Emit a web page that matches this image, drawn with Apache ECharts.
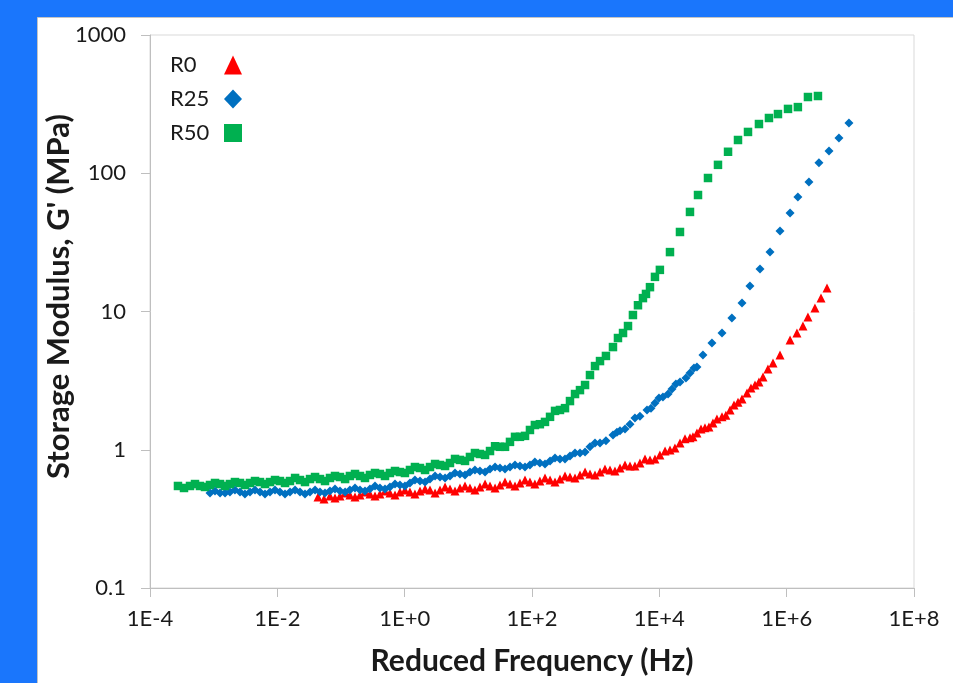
<!DOCTYPE html>
<html>
<head>
<meta charset="utf-8">
<script src="https://cdn.jsdelivr.net/npm/echarts@6/dist/echarts.min.js"></script>
<style>
  html, body { margin: 0; padding: 0; background: #1a76fc; }
  #chart { width: 953px; height: 683px; }
</style>
</head>
<body>
<div id="chart"></div>
<script>
// Storage modulus master curves (reduced frequency in Hz, G' in MPa)
const seriesNames = ['R0', 'R25', 'R50'];

// R0 — main readings
const r0Freq = [4.35e-2, 6.71e-2, 9.64e-2, 0.138, 0.199, 0.285, 0.409, 0.587, 0.843, 1.21,
  1.74, 2.50, 3.59, 5.15, 7.39, 10.6, 15.2, 21.9, 31.4, 45.1,
  64.7, 92.9, 133, 192, 275, 395, 567, 814, 1170, 1680,
  2410, 3460, 4960, 7130, 1.02e4, 1.47e4, 2.11e4, 3.03e4, 3.90e4, 5.21e4,
  6.95e4, 9.64e4, 1.29e5, 1.72e5, 2.38e5, 3.18e5, 4.25e5, 6.10e5, 7.85e5, 1.13e6,
  1.45e6, 1.80e6, 2.16e6, 2.78e6, 3.46e6, 4.30e6];
const r0Mod = [0.455, 0.463, 0.463, 0.471, 0.471, 0.479, 0.479, 0.486, 0.494, 0.494,
  0.503, 0.511, 0.511, 0.520, 0.529, 0.529, 0.538, 0.547, 0.556, 0.565,
  0.575, 0.584, 0.594, 0.604, 0.614, 0.635, 0.657, 0.668, 0.690, 0.714,
  0.738, 0.763, 0.802, 0.844, 0.917, 0.995, 1.12, 1.22, 1.32, 1.44,
  1.56, 1.73, 1.94, 2.21, 2.57, 2.94, 3.36, 4.24, 4.84, 6.22,
  6.99, 7.85, 9.12, 10.6, 12.5, 14.8];
// R0 — overlapping points from neighbouring temperatures
const r0FreqOverlap = [5.41e-2, 8.05e-2, 0.116, 0.166, 0.238, 0.342, 0.491, 0.705, 1.01, 1.45,
  2.09, 3.00, 4.31, 6.18, 8.87, 12.7, 18.3, 26.3, 37.7, 54.1,
  77.7, 111, 160, 230, 330, 474, 681, 977, 1400, 2010,
  2890, 4140, 5950, 8540, 1.23e4, 1.76e4, 2.53e4, 3.37e4, 4.51e4, 6.02e4,
  8.04e4, 1.11e5, 1.49e5, 1.99e5, 2.75e5, 3.67e5, 5.08e5];
const r0ModOverlap = [0.440, 0.448, 0.486, 0.455, 0.494, 0.463, 0.503, 0.471, 0.511, 0.479,
  0.520, 0.486, 0.538, 0.503, 0.547, 0.511, 0.565, 0.529, 0.584, 0.547,
  0.604, 0.565, 0.625, 0.584, 0.646, 0.625, 0.690, 0.657, 0.726, 0.702,
  0.776, 0.763, 0.858, 0.858, 0.979, 1.03, 1.20, 1.24, 1.41, 1.46,
  1.67, 1.78, 2.11, 2.33, 2.80, 3.09, 3.84];

// R25 — main readings
const r25Freq = [8.75e-4, 1.26e-3, 1.80e-3, 2.59e-3, 3.72e-3, 5.34e-3, 7.67e-3, 1.10e-2, 1.58e-2, 2.27e-2,
  3.26e-2, 4.68e-2, 6.71e-2, 9.64e-2, 0.138, 0.199, 0.285, 0.409, 0.587, 0.843,
  1.21, 1.74, 2.50, 3.59, 5.15, 7.39, 10.6, 15.2, 21.9, 31.4,
  45.1, 64.7, 92.9, 133, 192, 275, 395, 567, 814, 1170,
  1870, 2410, 3460, 4960, 6400, 8540, 1.14e4, 1.58e4, 2.11e4, 3.03e4,
  3.90e4, 4.84e4, 6.71e4, 9.64e4, 1.38e5, 1.99e5, 2.65e5, 3.81e5, 5.47e5, 7.85e5,
  1.13e6, 1.50e6, 2.24e6, 3.21e6, 4.62e6, 6.62e6, 9.51e6];
const r25Mod = [0.486, 0.486, 0.494, 0.494, 0.494, 0.494, 0.494, 0.494, 0.494, 0.494,
  0.494, 0.494, 0.503, 0.503, 0.511, 0.511, 0.520, 0.529, 0.538, 0.556,
  0.575, 0.594, 0.614, 0.635, 0.646, 0.668, 0.690, 0.702, 0.726, 0.738,
  0.750, 0.763, 0.776, 0.802, 0.830, 0.858, 0.902, 0.947, 1.05, 1.12,
  1.28, 1.37, 1.53, 1.75, 1.94, 2.18, 2.41, 2.75, 3.09, 3.59,
  3.97, 4.84, 5.91, 6.99, 8.97, 11.5, 15.3, 20.3, 26.9, 38.2,
  51.5, 67.3, 86.5, 119, 145, 180, 231];
// R25 — overlapping points from neighbouring temperatures
const r25FreqOverlap = [1.05e-3, 1.51e-3, 2.16e-3, 3.10e-3, 4.46e-3, 6.40e-3, 9.20e-3, 1.32e-2, 1.90e-2, 2.72e-2,
  3.91e-2, 5.61e-2, 8.05e-2, 0.116, 0.166, 0.238, 0.342, 0.491, 0.705, 1.01,
  1.45, 2.09, 3.00, 4.31, 6.18, 8.87, 12.7, 18.3, 26.3, 37.7,
  54.1, 77.7, 111, 160, 230, 330, 474, 681, 977, 1450,
  2160, 2890, 4140, 7390, 9870, 1.37e4, 1.82e4, 2.62e4, 3.50e4];
const r25ModOverlap = [0.503, 0.486, 0.511, 0.479, 0.511, 0.479, 0.511, 0.479, 0.511, 0.479,
  0.511, 0.486, 0.520, 0.494, 0.529, 0.503, 0.547, 0.520, 0.565, 0.547,
  0.604, 0.584, 0.646, 0.625, 0.679, 0.657, 0.714, 0.690, 0.750, 0.726,
  0.776, 0.750, 0.816, 0.789, 0.871, 0.858, 0.947, 0.964, 1.12, 1.16,
  1.34, 1.41, 1.70, 2.00, 2.37, 2.53, 2.99, 3.30, 3.90];

// R50 — main readings
const r50Freq = [2.75e-4, 4.25e-4, 6.09e-4, 8.75e-4, 1.26e-3, 1.80e-3, 2.59e-3, 3.72e-3, 5.34e-3, 7.67e-3,
  1.10e-2, 1.58e-2, 2.27e-2, 3.26e-2, 4.68e-2, 6.71e-2, 9.64e-2, 0.138, 0.199, 0.285,
  0.409, 0.587, 0.843, 1.21, 1.74, 2.50, 3.59, 5.15, 7.39, 10.6,
  15.2, 21.9, 31.4, 45.1, 64.7, 92.9, 133, 192, 275, 395,
  567, 814, 1170, 1870, 2690, 3850, 5530, 7130, 1.02e4, 1.47e4,
  2.11e4, 3.03e4, 4.05e4, 5.81e4, 8.34e4, 1.20e5, 1.72e5, 2.47e5, 3.67e5, 5.27e5,
  7.30e5, 1.05e6, 1.50e6, 2.16e6, 3.10e6];
const r50Mod = [0.547, 0.547, 0.547, 0.556, 0.565, 0.565, 0.575, 0.575, 0.584, 0.584,
  0.594, 0.594, 0.604, 0.614, 0.614, 0.625, 0.635, 0.646, 0.646, 0.657,
  0.668, 0.679, 0.690, 0.714, 0.738, 0.750, 0.776, 0.802, 0.844, 0.887,
  0.932, 0.979, 1.05, 1.14, 1.24, 1.39, 1.53, 1.73, 1.94, 2.25,
  2.70, 3.47, 4.38, 5.53, 6.99, 9.43, 12.5, 15.0, 20.0, 26.9,
  37.6, 52.5, 69.6, 92.4, 115, 143, 174, 199, 227, 251,
  268, 292, 301, 356, 362];
// R50 — overlapping points from neighbouring temperatures
const r50FreqOverlap = [3.42e-4, 5.09e-4, 7.31e-4, 1.05e-3, 1.51e-3, 2.16e-3, 3.10e-3, 4.46e-3, 6.40e-3, 9.20e-3,
  1.32e-2, 1.90e-2, 2.72e-2, 3.91e-2, 5.61e-2, 8.05e-2, 0.116, 0.166, 0.238, 0.342,
  0.491, 0.705, 1.01, 1.45, 2.09, 3.00, 4.31, 6.18, 8.87, 12.7,
  18.3, 26.3, 37.7, 54.1, 77.7, 111, 160, 230, 330, 474,
  681, 977, 1450, 2240, 3220, 4620, 6170, 8540];
const r50ModOverlap = [0.529, 0.565, 0.538, 0.575, 0.547, 0.584, 0.556, 0.594, 0.565, 0.604,
  0.575, 0.625, 0.584, 0.635, 0.594, 0.646, 0.614, 0.668, 0.625, 0.679,
  0.646, 0.702, 0.679, 0.750, 0.714, 0.789, 0.763, 0.858, 0.830, 0.947,
  0.917, 1.06, 1.05, 1.24, 1.26, 1.51, 1.59, 1.91, 2.00, 2.53,
  2.94, 4.03, 4.77, 6.43, 7.85, 11.1, 13.4, 17.8];

const xTickLabels = ['1E-4', '1E-2', '1E+0', '1E+2', '1E+4', '1E+6', '1E+8'];
const yTickLabels = ['0.1', '1', '10', '100', '1000'];

const pairs = (xs, ys) => xs.map((x, i) => [x, ys[i]]);
const FONT = 'Lato';
const INK = '#1a1a1a';
const AXIS_GREY = '#bfbfbf';

const chart = echarts.init(document.getElementById('chart'), null, { renderer: 'canvas' });
chart.setOption({
  backgroundColor: '#1a76fc',
  animation: false,
  textStyle: { fontFamily: FONT },
  graphic: [{
    type: 'rect', z: -10, silent: true,
    shape: { x: 37.5, y: 17.5, width: 920, height: 670 },
    style: { fill: '#ffffff', stroke: '#c4c4c4', lineWidth: 1 }
  }],
  grid: {
    left: 150, top: 35, width: 764, height: 553,
    show: true, borderColor: '#d9d9d9', borderWidth: 1, backgroundColor: 'transparent'
  },
  legend: {
    orient: 'vertical', left: 165, top: 49, align: 'right',
    itemGap: 12, itemWidth: 18, itemHeight: 19,
    formatter: name => '{n|' + name + '}',
    textStyle: {
      fontFamily: FONT, fontSize: 22, color: INK,
      rich: { n: { width: 49, align: 'left', fontFamily: FONT, fontSize: 22, color: INK } }
    },
    data: [
      { name: 'R0', icon: 'triangle' },
      { name: 'R25', icon: 'diamond' },
      { name: 'R50', icon: 'path://M0,0H10V10H0Z' }
    ]
  },
  xAxis: {
    type: 'log', logBase: 10, min: 1e-4, max: 1e8, interval: 2,
    name: 'Reduced Frequency (Hz)', nameLocation: 'middle', nameGap: 58,
    nameTextStyle: { fontFamily: FONT, fontSize: 30, fontWeight: 'bold', color: INK },
    axisLine: { lineStyle: { color: AXIS_GREY, width: 1 } },
    axisTick: { show: true, length: 9, inside: false, lineStyle: { color: AXIS_GREY } },
    splitLine: { show: false },
    minorTick: { show: false },
    axisLabel: {
      margin: 20, fontFamily: FONT, fontSize: 22, color: INK,
      formatter: v => xTickLabels[Math.round((Math.log10(v) + 4) / 2)]
    }
  },
  yAxis: {
    type: 'log', logBase: 10, min: 0.1, max: 1000, interval: 1,
    name: "Storage Modulus, G' (MPa)", nameLocation: 'middle', nameGap: 76,
    nameMoveOverlap: false,
    nameTextStyle: {
      fontFamily: FONT, fontSize: 31, fontWeight: 'bold', color: INK,
      padding: [0, 0, 0, 30]
    },
    axisLine: { show: true, lineStyle: { color: AXIS_GREY, width: 1 } },
    axisTick: { show: true, length: 9, inside: false, lineStyle: { color: AXIS_GREY } },
    splitLine: { show: false },
    axisLabel: {
      margin: 24, fontFamily: FONT, fontSize: 22, color: INK,
      formatter: v => yTickLabels[Math.round(Math.log10(v) + 1)]
    }
  },
  series: [
    {
      name: seriesNames[0], type: 'scatter', symbol: 'triangle', symbolSize: 9,
      itemStyle: { color: '#ff0000', opacity: 1 },
      data: pairs(r0Freq, r0Mod).concat(pairs(r0FreqOverlap, r0ModOverlap))
    },
    {
      name: seriesNames[1], type: 'scatter', symbol: 'diamond', symbolSize: 9,
      itemStyle: { color: '#0070c0', opacity: 1 },
      data: pairs(r25Freq, r25Mod).concat(pairs(r25FreqOverlap, r25ModOverlap))
    },
    {
      name: seriesNames[2], type: 'scatter', symbol: 'rect', symbolSize: 8.5,
      itemStyle: { color: '#00b050', opacity: 1 },
      data: pairs(r50Freq, r50Mod).concat(pairs(r50FreqOverlap, r50ModOverlap))
    }
  ]
});
</script>
</body>
</html>
